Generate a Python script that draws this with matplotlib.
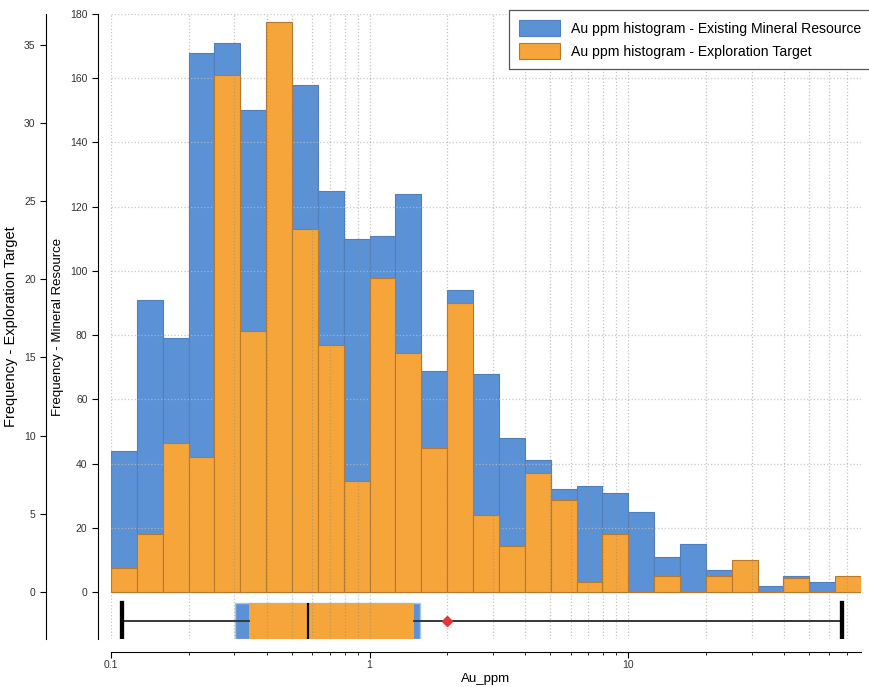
import matplotlib.pyplot as plt

plt.rcParams['font.family'] = ['Liberation Sans', 'DejaVu Sans']

# log-spaced bin edges (0.1 decade), Au ppm
bin_edges = [0.1, 0.1259, 0.1585, 0.1995, 0.2512, 0.3162, 0.3981, 0.5012, 0.631, 0.7943,
             1.0, 1.259, 1.585, 1.995, 2.512, 3.162, 3.981, 5.012, 6.31, 7.943,
             10.0, 12.59, 15.85, 19.95, 25.12, 31.62, 39.81, 50.12, 63.1, 79.43]

# Existing Mineral Resource counts (inner axis)
existing_counts = [44, 91, 79, 168, 171, 150, 160, 158, 125, 110, 111, 124, 69, 94, 68,
                   48, 41, 32, 33, 31, 25, 11, 15, 7, 4, 2, 5, 3, 2]
# Exploration Target counts (outer axis)
target_counts = [1.5, 3.7, 9.5, 8.6, 33.1, 16.7, 36.5, 23.2, 15.8, 7.1, 20.1, 15.3, 9.2, 18.5, 4.9,
                 2.9, 7.6, 5.9, 0.6, 3.7, 0, 1, 0, 1, 2, 0, 0.9, 0, 1]

# box plot summaries
existing_box = dict(q1=0.301, med=0.58, q3=1.57, whislo=0.11, whishi=67.3, mean=2.0)
target_box = dict(q1=0.341, med=0.58, q3=1.48, whislo=0.11, whishi=67.3, mean=2.0)

blue = '#5b92d6'
orange = '#f6a53b'

fig = plt.figure(figsize=(8.69, 6.87), dpi=100)
ax = fig.add_axes([111/869, 1 - 639/687, (861 - 111)/869, (639 - 14)/687])

ax.hist(bin_edges[:-1], bins=bin_edges, weights=existing_counts, color=blue,
        edgecolor='#4f7fbd', linewidth=0.8,
        label='Au ppm histogram - Existing Mineral Resource')
ax.set_xscale('log')
ax.set_xlim(0.1, 79.43)
ax.set_ylim(-14.6, 180)
ax.set_yticks(range(0, 181, 20))

ax2 = ax.twinx()
ax2.hist(bin_edges[:-1], bins=bin_edges, weights=target_counts, color=orange,
         edgecolor='#b9792c', linewidth=0.8,
         label='Au ppm histogram - Exploration Target')

# box plots below zero
ax2.bxp([existing_box], positions=[-1.88], widths=2.29, orientation='horizontal',
        patch_artist=True, showfliers=False, showmeans=False, capwidths=2.29,
        manage_ticks=False,
        boxprops=dict(facecolor=blue, edgecolor='#a8c5ea', linewidth=1),
        whiskerprops=dict(color='#808080', linewidth=1.3),
        capprops=dict(color='black', linewidth=3),
        medianprops=dict(color='black', linewidth=1.5))
ax2.bxp([target_box], positions=[-1.88], widths=2.29, orientation='horizontal',
        patch_artist=True, showfliers=False, showmeans=True, capwidths=2.29,
        manage_ticks=False,
        boxprops=dict(facecolor=orange, edgecolor=orange, linewidth=0),
        whiskerprops=dict(color='#333333', linewidth=1.3),
        capprops=dict(color='black', linewidth=3),
        medianprops=dict(color='black', linewidth=1.5),
        meanprops=dict(marker='D', markerfacecolor='#e8322e', markeredgecolor='#e8322e',
                       markersize=5))
ax2.set_ylim(-3.03, 37)
ax2.set_yticks(range(0, 36, 5))
ax2.set_xlim(0.1, 79.43)

# grids
ax.set_axisbelow(False)
ax.grid(axis='y', color='#bbbbbb', linestyle=':', linewidth=0.9, alpha=0.8)
ax2.xaxis.set_visible(True)
ax2.set_axisbelow(False)
ax2.grid(axis='x', which='both', color='#888888', linestyle=':', linewidth=0.9, alpha=0.5)
ax2.tick_params(axis='x', which='both', bottom=False, top=False,
                labelbottom=False, labeltop=False)

# spines
for s in ['top', 'right']:
    ax.spines[s].set_visible(False)
ax.spines['left'].set_position(('outward', 9.4))
ax.spines['bottom'].set_position(('outward', 9.4))
for s in ['top', 'right', 'bottom']:
    ax2.spines[s].set_visible(False)
ax2.spines['left'].set_visible(True)
ax2.spines['left'].set_position(('outward', 46.8))
ax2.yaxis.set_ticks_position('left')
ax2.yaxis.set_label_position('left')

ax.set_xticks([0.1, 1, 10])
ax.set_xticklabels(['0.1', '1', '10'])
ax.tick_params(axis='both', which='major', labelsize=7.5, labelcolor='#333333', length=4)
ax.tick_params(axis='x', which='both', pad=2)
ax.tick_params(axis='x', which='minor', length=2.5)
ax2.tick_params(axis='y', labelsize=7.5, labelcolor='#333333', length=4)

ax.set_xlabel('Au_ppm', fontsize=9.5, labelpad=2)
ax.set_ylabel('Frequency - Mineral Resource', fontsize=9.5, labelpad=4)
ax2.set_ylabel('Frequency - Exploration Target', fontsize=10.5, labelpad=4)

h1, l1 = ax.get_legend_handles_labels()
h2, l2 = ax2.get_legend_handles_labels()
leg = fig.legend(h1 + h2, l1 + l2, loc='upper left', bbox_to_anchor=(509/869, 1 - 10/687),
                 fontsize=10.1, frameon=True, fancybox=False, edgecolor='#555555',
                 framealpha=1, handlelength=2.9, handleheight=1.4, borderaxespad=0,
                 borderpad=0.7, labelspacing=0.5)
leg.get_frame().set_linewidth(0.9)

fig.savefig('out.png', dpi=100)
